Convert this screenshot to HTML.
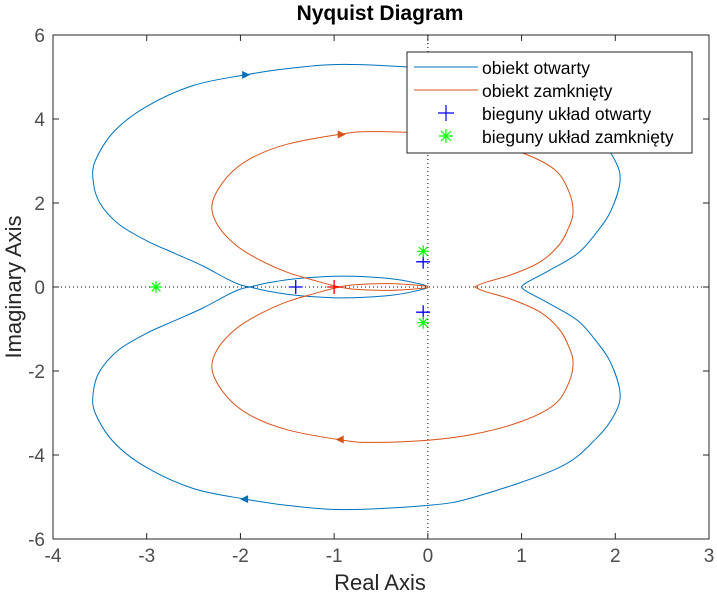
<!DOCTYPE html>
<html><head><meta charset="utf-8"><style>
body{margin:0;background:#fff;}
svg text{font-family:"Liberation Sans",sans-serif;}
</style></head><body>
<svg id="chart" width="717" height="594" xmlns="http://www.w3.org/2000/svg">
<rect x="0" y="0" width="717" height="594" fill="#fff"/>
<text x="380" y="20" text-anchor="middle" font-size="21" font-weight="bold" fill="#000">Nyquist Diagram</text>
<g id="grid"></g>
<g id="series"></g>
<g id="axes"></g>
<text x="380" y="590" text-anchor="middle" font-size="22" fill="#262626">Real Axis</text>
<text transform="translate(21,287) rotate(-90)" text-anchor="middle" font-size="22" fill="#262626">Imaginary Axis</text>
<g>
<rect x="407" y="52" width="285" height="101" fill="#fff" stroke="#262626" stroke-width="1"/>
<line x1="414" y1="67" x2="478" y2="67" stroke="#0072bd" stroke-width="1"/>
<text x="482" y="74" font-size="17.5" fill="#000">obiekt otwarty</text>
<line x1="414" y1="90" x2="478" y2="90" stroke="#d95319" stroke-width="1"/>
<text x="482" y="97" font-size="17.5" fill="#000">obiekt zamknięty</text>
<path d="M438,113H454M446,105V121" stroke="#0000ff" stroke-width="1.2"/>
<path d="M439,136H453M446,129V143M441,131L451,141M441,141L451,131" stroke="#00ff00" stroke-width="1.2"/>
<text x="482" y="120" font-size="17.5" fill="#000">bieguny układ otwarty</text>
<text x="482" y="143" font-size="17.5" fill="#000">bieguny układ zamknięty</text>
</g>
</svg>
<script>
const xTicks=[-4,-3,-2,-1,0,1,2,3];
const yTicks=[-6,-4,-2,0,2,4,6];
const blueX=[1,1.05,1.3,1.6,1.8,1.95,2.05,2.0,1.8,1.4,0.5,0,-0.9,-1.5,-1.95,-2.5,-3.0,-3.35,-3.55,-3.57,-3.5,-3.3,-3.0,-2.7,-2.4,-2.15,-2.0,-1.9,-1.7,-1.4,-0.9,-0.4,-0.1,0];
const blueY=[0,0.1,0.4,0.8,1.3,1.8,2.5,3.0,3.6,4.3,5.0,5.2,5.3,5.2,5.05,4.8,4.3,3.7,3.0,2.5,2.0,1.5,1.1,0.8,0.5,0.2,0.05,0,-0.1,-0.2,-0.26,-0.2,-0.08,0];
const redX=[0.5,0.6,0.9,1.2,1.4,1.5,1.55,1.5,1.35,1.0,0.5,0,-0.6,-0.9,-1.5,-1.9,-2.15,-2.3,-2.25,-2.05,-1.8,-1.5,-1.2,-1.0,-0.8,-0.4,-0.05,0];
const redY=[0,0.1,0.3,0.6,1.0,1.4,1.8,2.3,2.8,3.2,3.5,3.65,3.7,3.65,3.4,3.05,2.6,2.0,1.5,1.0,0.65,0.35,0.15,0.03,-0.05,-0.08,-0.03,0];
const polesOpenX=[-1.41,-0.05,-0.05];
const polesOpenY=[0,0.6,-0.6];
const polesClosedX=[-2.9,-0.05,-0.05];
const polesClosedY=[0,0.85,-0.85];
const critX=[-1];const critY=[0];
const arrowBlue=[-1.95,5.05];
const arrowRed=[-0.93,3.63];

const L=53,R=709,T=35,B=539;
const sx=v=>L+(v+4)/7*(R-L);
const sy=v=>T+(6-v)/12*(B-T);
const NS='http://www.w3.org/2000/svg';
function mk(tag,attrs,parent){const e=document.createElementNS(NS,tag);for(const k in attrs)e.setAttribute(k,attrs[k]);parent.appendChild(e);return e;}
const grid=document.getElementById('grid'),ser=document.getElementById('series'),ax=document.getElementById('axes');
let g1=mk('line',{x1:sx(0),x2:sx(0),y1:T,y2:B,stroke:'#000','stroke-width':1,'stroke-dasharray':'1,3'},grid);


let g2=mk('line',{x1:L,x2:R,y1:sy(0),y2:sy(0),stroke:'#000','stroke-width':1,'stroke-dasharray':'1,3'},grid);


function smooth(pts){
  let d='M'+pts[0][0]+','+pts[0][1];
  for(let i=0;i<pts.length-1;i++){
    const p0=pts[Math.max(i-1,0)],p1=pts[i],p2=pts[i+1],p3=pts[Math.min(i+2,pts.length-1)];
    const c1=[p1[0]+(p2[0]-p0[0])/6,p1[1]+(p2[1]-p0[1])/6];
    const c2=[p2[0]-(p3[0]-p1[0])/6,p2[1]-(p3[1]-p1[1])/6];
    d+=`C${c1[0]},${c1[1]} ${c2[0]},${c2[1]} ${p2[0]},${p2[1]}`;
  }
  return d;
}
function curve(xs,ys,color,name){
  const up=xs.map((x,i)=>[sx(x),sy(ys[i])]);
  const dn=xs.map((x,i)=>[sx(x),sy(-ys[i])]).reverse();
  const p=mk('path',{d:smooth(up.concat(dn.slice(1))),fill:'none',stroke:color,'stroke-width':1},ser);
  
  
}
curve(blueX,blueY,'#0072bd','curve-open');
curve(redX,redY,'#d95319','curve-closed');
function arrow(a,color,dir,name){
  const x=sx(a[0]),y=sy(a[1]*dir);const d=dir>0?1:-1;
  const p=mk('polygon',{points:`${x+5*d},${y} ${x-3*d},${y-4} ${x-3*d},${y+4}`,fill:color},ser);
  
  
}
arrow(arrowBlue,'#0072bd',1,'arrow-open-top');
arrow(arrowBlue,'#0072bd',-1,'arrow-open-bottom');
arrow(arrowRed,'#d95319',1,'arrow-closed-top');
arrow(arrowRed,'#d95319',-1,'arrow-closed-bottom');
function plus(xs,ys,color,name,s){xs.forEach((v,i)=>{const x=sx(v),y=sy(ys[i]);
  const p=mk('path',{d:`M${x-s},${y}H${x+s}M${x},${y-s}V${y+s}`,stroke:color,'stroke-width':1.3,fill:'none'},ser);
  
  });}
function star(xs,ys,color,name){xs.forEach((v,i)=>{const x=sx(v),y=sy(ys[i]);const s=6,t=4.3;
  const p=mk('path',{d:`M${x-s},${y}H${x+s}M${x},${y-s}V${y+s}M${x-t},${y-t}L${x+t},${y+t}M${x-t},${y+t}L${x+t},${y-t}`,stroke:color,'stroke-width':1.2,fill:'none'},ser);
  
  });}
plus(critX,critY,'#ff0000','critical-point',7);
plus(polesOpenX,polesOpenY,'#0000ff','pole-open',7);
star(polesClosedX,polesClosedY,'#00ff00','pole-closed');
const fr=mk('rect',{x:L,y:T,width:R-L,height:B-T,fill:'none',stroke:'#262626','stroke-width':1},ax);


xTicks.forEach(v=>{const x=sx(v);
  mk('path',{d:`M${x},${B}V${B-6}M${x},${T}V${T+6}`,stroke:'#262626','stroke-width':1},ax);
  const t=mk('text',{x:x,y:B+23,'text-anchor':'middle','font-size':19,fill:'#4d4d4d'},ax);t.textContent=v;
  
  });
yTicks.forEach(v=>{const y=sy(v);
  mk('path',{d:`M${L},${y}H${L+6}M${R},${y}H${R-6}`,stroke:'#262626','stroke-width':1},ax);
  const t=mk('text',{x:L-8,y:y+7,'text-anchor':'end','font-size':19,fill:'#4d4d4d'},ax);t.textContent=v;
  
  });
</script>
</body></html>
